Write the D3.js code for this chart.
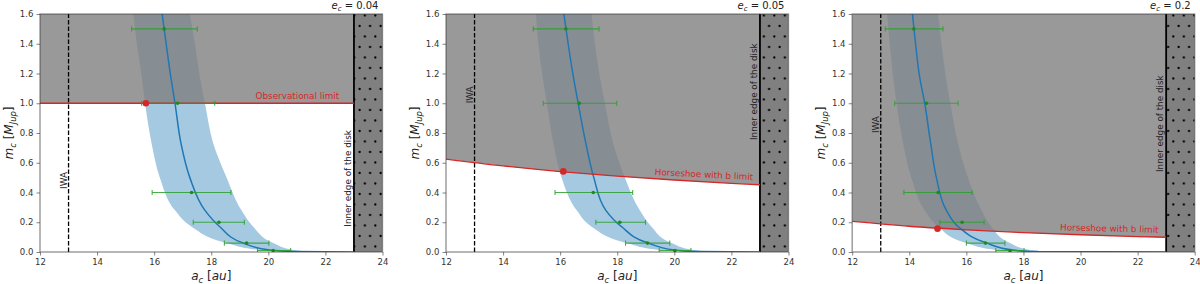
<!DOCTYPE html>
<html>
<head>
<meta http-equiv="Content-Type" content="text/html; charset=utf-8">
<title>Mass of planet c vs semi-major axis</title>
<script src="https://cdnjs.cloudflare.com/ajax/libs/d3/7.8.5/d3.min.js"></script>
<style>
  body { margin: 0; background: #fff; }
  svg text { font-family: "DejaVu Sans", sans-serif; }
</style>
</head>
<body>
<svg id="chart" width="1200" height="284"></svg>
<script>
// ---- data ----
var eccTitles = ["0.04", "0.05", "0.2"];
var xTicks = [12, 14, 16, 18, 20, 22, 24];
var yTicks = [0.0, 0.2, 0.4, 0.6, 0.8, 1.0, 1.2, 1.4, 1.6];

var iwaA = 13;        // inner working angle (au)
var diskEdgeA = 23;   // inner edge of the disk (au)

// masses (M_Jup) where the a_c curve and its band were read
var bandMass = [1.6, 1.4, 1.18, 1.0, 0.73, 0.5, 0.28, 0.17, 0.06, 0.013, 0.003, 0];

var band1Mid = [16.28, 16.42, 16.58, 16.73, 16.94, 17.25, 17.78, 18.30, 19.12, 20.05, 21.0, 23];
var band1Lo  = [15.27, 15.39, 15.56, 15.68, 15.91, 16.20, 16.73, 17.31, 18.54, 19.71, 20.6, 23];
var band1Hi  = [17.25, 17.43, 17.60, 17.78, 18.07, 18.54, 19.06, 19.47, 20.17, 20.87, 21.6, 23];

var band2Mid = [16.13, 16.28, 16.46, 16.63, 16.90, 17.18, 17.60, 18.15, 19.08, 20.00, 20.9, 23];
var band2Lo  = [15.15, 15.23, 15.38, 15.53, 15.76, 16.05, 16.58, 17.10, 18.33, 19.49, 20.4, 23];
var band2Hi  = [17.10, 17.22, 17.39, 17.57, 17.86, 18.27, 18.79, 19.20, 19.90, 20.66, 21.4, 23];

var band3Mid = [14.11, 14.22, 14.36, 14.54, 14.75, 14.95, 15.30, 15.72, 16.71, 17.62, 18.5, 23];
var band3Lo  = [13.22, 13.31, 13.43, 13.55, 13.78, 14.07, 14.54, 15.01, 16.00, 17.06, 17.9, 23];
var band3Hi  = [15.01, 15.13, 15.28, 15.44, 15.71, 16.06, 16.53, 16.88, 17.53, 18.23, 19.0, 23];

// green error bars
var errMass = [1.5, 1.0, 0.4, 0.2, 0.06, 0.01];
var err1Mid = [16.35, 16.82, 17.31, 18.27, 19.24, 20.17];
var err1Lo  = [15.21, 15.56, 15.93, 17.37, 18.46, 19.62];
var err1Hi  = [17.51, 18.12, 18.69, 19.16, 20.02, 20.78];

var err2Mid = [16.20, 16.67, 17.16, 18.09, 19.06, 20.02];
var err2Lo  = [15.06, 15.41, 15.82, 17.25, 18.29, 19.47];
var err2Hi  = [17.36, 17.98, 18.54, 18.99, 19.84, 20.58];

var err3Mid = [14.16, 14.60, 15.01, 15.85, 16.67, 17.53];
var err3Lo  = [13.16, 13.49, 13.81, 15.07, 16.00, 17.03];
var err3Hi  = [15.18, 15.71, 16.20, 16.62, 17.35, 18.02];

// upper mass limits (red lines)
var lim1A = [12, 23];
var lim1M = [1.0, 1.0];
var lim2A = [12, 14, 16, 18, 20, 22, 23];
var lim2M = [0.625, 0.579, 0.541, 0.510, 0.484, 0.462, 0.452];
var lim3A = [12, 14, 16, 18, 20, 22, 23];
var lim3M = [0.206, 0.173, 0.149, 0.130, 0.116, 0.104, 0.099];
var limNames = ["Observational limit", "Horseshoe with b limit", "Horseshoe with b limit"];

// red markers where the curve meets the limit
var hitA = [15.71, 16.11, 14.99];
var hitM = [1.0, 0.542, 0.157];

// ---- panel table built from the arrays ----
var panels = [
  {mid: band1Mid, lo: band1Lo, hi: band1Hi, eMid: err1Mid, eLo: err1Lo, eHi: err1Hi, limA: lim1A, limM: lim1M},
  {mid: band2Mid, lo: band2Lo, hi: band2Hi, eMid: err2Mid, eLo: err2Lo, eHi: err2Hi, limA: lim2A, limM: lim2M},
  {mid: band3Mid, lo: band3Lo, hi: band3Hi, eMid: err3Mid, eLo: err3Lo, eHi: err3Hi, limA: lim3A, limM: lim3M}
];

// label placement (a of the right end of limit label, start mass of rotated labels)
var limLabelEnd = [22.48, 22.75, 22.73];
var iwaLabelStart = [0.424, 1.0, 0.80];
var diskLabelStart = [0.17, 0.753, 0.538];

// ---- layout ----
var panelLeft = [40, 446, 852.2];
var plotW = 342.5, plotTop = 14, plotBottom = 252;

var svg = d3.select("#chart");
var defs = svg.append("defs");

// '.' hatch of the disk
var pat = defs.append("pattern").attr("id", "dots")
  .attr("patternUnits", "userSpaceOnUse").attr("width", 10.5).attr("height", 21);
pat.append("circle").attr("cx", 2.6).attr("cy", 5).attr("r", 1.15).attr("fill", "#000");
pat.append("circle").attr("cx", 7.85).attr("cy", 15.5).attr("r", 1.15).attr("fill", "#000");

// small helper for mathtext-like labels
function mathText(sel, parts, size) {
  var shift = 0;
  parts.forEach(function(pt) {
    var t = sel.append("tspan").text(pt[0]);
    var target = 0;
    if (pt[1] == "i") t.attr("font-style", "italic");
    if (pt[1] == "sub") {
      t.attr("font-style", "italic").attr("font-size", size * 0.7);
      target = size * 0.22;
    }
    if (target != shift) t.attr("dy", target - shift);
    shift = target;
  });
}

panels.forEach(function(p, i) {
  var L = panelLeft[i];
  var x = d3.scaleLinear().domain([12, 24]).range([L, L + plotW]);
  var y = d3.scaleLinear().domain([0, 1.6]).range([plotBottom, plotTop]);
  var g = svg.append("g");

  defs.append("clipPath").attr("id", "clip" + i).append("rect")
    .attr("x", x(12)).attr("y", y(1.6)).attr("width", x(24) - x(12)).attr("height", y(0) - y(1.6));
  var plot = g.append("g").attr("clip-path", "url(#clip" + i + ")");

  // blue uncertainty band
  var band = bandMass.map(function(m, k) {
    return {m: m, mid: p.mid[k], lo: p.lo[k], hi: p.hi[k]};
  }).sort(function(a, b) { return a.m - b.m; });

  plot.append("path").datum(band)
    .attr("d", d3.area().curve(d3.curveMonotoneY)
      .y(function(d) { return y(d.m); })
      .x0(function(d) { return x(d.lo); })
      .x1(function(d) { return x(d.hi); }))
    .attr("fill", "#1f77b4").attr("fill-opacity", 0.4);

  // excluded region above the limit
  var lim = p.limA.map(function(a, k) { return {a: a, m: p.limM[k]}; });
  plot.append("path").datum(lim)
    .attr("d", d3.area().curve(d3.curveMonotoneX)
      .x(function(d) { return x(d.a); })
      .y0(y(1.6))
      .y1(function(d) { return y(d.m); }))
    .attr("fill", "#808080").attr("fill-opacity", 0.8);

  // disk
  plot.append("rect").attr("x", x(diskEdgeA)).attr("y", y(1.6))
    .attr("width", x(24) - x(diskEdgeA)).attr("height", y(0) - y(1.6))
    .attr("fill", "#808080");
  plot.append("rect").attr("x", x(diskEdgeA)).attr("y", y(1.6))
    .attr("width", x(24) - x(diskEdgeA)).attr("height", y(0) - y(1.6))
    .attr("fill", "url(#dots)");
  plot.append("line").attr("x1", x(diskEdgeA)).attr("x2", x(diskEdgeA))
    .attr("y1", y(0)).attr("y2", y(1.6))
    .attr("stroke", "#000").attr("stroke-width", 1.8);

  // IWA
  plot.append("line").attr("x1", x(iwaA)).attr("x2", x(iwaA))
    .attr("y1", y(0)).attr("y2", y(1.6))
    .attr("stroke", "#000").attr("stroke-width", 1.3).attr("stroke-dasharray", "4.5,2");

  // best fit curve
  plot.append("path").datum(band)
    .attr("d", d3.line().curve(d3.curveMonotoneY)
      .x(function(d) { return x(d.mid); })
      .y(function(d) { return y(d.m); }))
    .attr("fill", "none").attr("stroke", "#1f77b4").attr("stroke-width", 1.5);

  // limit line
  plot.append("path").datum(lim)
    .attr("d", d3.line().curve(d3.curveMonotoneX)
      .x(function(d) { return x(d.a); })
      .y(function(d) { return y(d.m); }))
    .attr("fill", "none").attr("stroke", "#d62728").attr("stroke-width", 1.3);

  // error bars
  var errs = errMass.map(function(m, k) {
    return {m: m, mid: p.eMid[k], lo: p.eLo[k], hi: p.eHi[k]};
  });
  var eb = plot.append("g").selectAll("g").data(errs).enter().append("g");
  eb.append("line")
    .attr("x1", function(d) { return x(d.lo); }).attr("x2", function(d) { return x(d.hi); })
    .attr("y1", function(d) { return y(d.m); }).attr("y2", function(d) { return y(d.m); })
    .attr("stroke", "#2ca02c").attr("stroke-opacity", 0.85).attr("stroke-width", 1.1);
  ["lo", "hi"].forEach(function(key) {
    eb.append("line")
      .attr("x1", function(d) { return x(d[key]); }).attr("x2", function(d) { return x(d[key]); })
      .attr("y1", function(d) { return y(d.m) - 2.6; }).attr("y2", function(d) { return y(d.m) + 2.6; })
      .attr("stroke", "#2ca02c").attr("stroke-opacity", 0.85).attr("stroke-width", 1.1);
  });
  eb.append("circle")
    .attr("cx", function(d) { return x(d.mid); }).attr("cy", function(d) { return y(d.m); })
    .attr("r", 1.8).attr("fill", "#1e8a1e");

  // intersection marker
  plot.append("circle").attr("cx", x(hitA[i])).attr("cy", y(hitM[i]))
    .attr("r", 3.3).attr("fill", "#d62728");

  // limit label, follows the slope of the line near its end
  var limAt = d3.scaleLinear().domain(p.limA).range(p.limM);
  var n = p.limA.length;
  var ang = Math.atan2(y(p.limM[n - 1]) - y(p.limM[n - 2]), x(p.limA[n - 1]) - x(p.limA[n - 2])) * 180 / Math.PI;
  plot.append("text")
    .attr("transform", "translate(" + x(limLabelEnd[i]) + "," + y(limAt(limLabelEnd[i])) + ") rotate(" + ang + ")")
    .attr("y", -4.3).attr("text-anchor", "end")
    .attr("font-size", 8.8).attr("fill", "#d62728")
    .text(limNames[i]);

  // rotated annotations
  g.append("text")
    .attr("transform", "translate(" + (x(iwaA) - 2) + "," + y(iwaLabelStart[i]) + ") rotate(-90)")
    .attr("font-size", 8.8).attr("fill", "#222").text("IWA");
  g.append("text")
    .attr("transform", "translate(" + (x(diskEdgeA) - 3.2) + "," + y(diskLabelStart[i]) + ") rotate(-90)")
    .attr("font-size", 8.8).attr("fill", "#222").text("Inner edge of the disk");

  // axes
  var xAxis = g.append("g").attr("transform", "translate(0," + plotBottom + ")")
    .call(d3.axisBottom(x).tickValues(xTicks).tickSize(3.5).tickPadding(3.5).tickFormat(d3.format("d")));
  var yAxis = g.append("g").attr("transform", "translate(" + L + ",0)")
    .call(d3.axisLeft(y).tickValues(yTicks).tickSize(3.5).tickPadding(3.2).tickFormat(d3.format(".1f")));
  [xAxis, yAxis].forEach(function(ax) {
    ax.select(".domain").remove();
    ax.selectAll("line").attr("stroke", "#333").attr("stroke-opacity", 0.6);
    ax.selectAll("text").attr("font-size", 8.5).attr("fill", "#333")
      .attr("font-family", "DejaVu Sans, sans-serif");
  });

  // spines
  g.append("rect").attr("x", x(12)).attr("y", y(1.6))
    .attr("width", x(24) - x(12)).attr("height", y(0) - y(1.6))
    .attr("fill", "none").attr("stroke", "#333").attr("stroke-opacity", 0.55).attr("stroke-width", 1.3);

  // axis labels and title
  var xl = g.append("text").attr("x", (x(12) + x(24)) / 2).attr("y", 280)
    .attr("text-anchor", "middle").attr("font-size", 12).attr("fill", "#222");
  mathText(xl, [["a", "i"], ["c", "sub"], [" [", "n"], ["au", "i"], ["]", "n"]], 12);

  var yl = g.append("text")
    .attr("transform", "translate(" + (L - 27) + "," + ((plotTop + plotBottom) / 2) + ") rotate(-90)")
    .attr("text-anchor", "middle").attr("font-size", 12).attr("fill", "#222");
  mathText(yl, [["m", "i"], ["c", "sub"], [" [", "n"], ["M", "i"], ["Jup", "sub"], ["]", "n"]], 12);

  var tl = g.append("text").attr("x", x(24) - 4).attr("y", 9)
    .attr("text-anchor", "end").attr("font-size", 10).attr("fill", "#222");
  mathText(tl, [["e", "i"], ["c", "sub"], [" = " + eccTitles[i], "n"]], 10);
});
</script>
</body>
</html>
